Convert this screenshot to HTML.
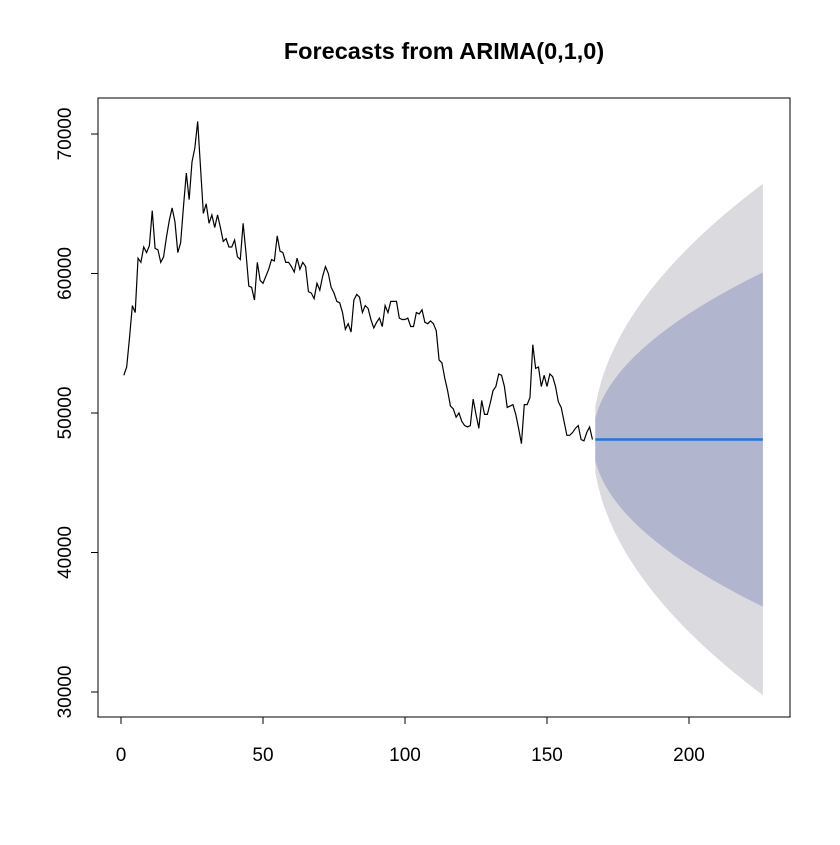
<!DOCTYPE html>
<html><head><meta charset="utf-8"><style>
body{margin:0;background:#fff;}
svg text{font-family:"Liberation Sans",sans-serif;}
</style></head><body>
<svg id="chart" width="840" height="840" xmlns="http://www.w3.org/2000/svg">
<rect width="840" height="840" fill="#fff"/>
<text x="444" y="59" text-anchor="middle" font-size="23.5" font-weight="bold">Forecasts from ARIMA(0,1,0)</text>
<g id="bands"></g>
<g id="series"></g>
<rect x="98" y="98" width="692" height="619" fill="none" stroke="#000" stroke-width="1"/>
<g id="axes"></g>
</svg>
<script>
const observed = [52.7,53.3,55.4,57.7,57.2,61.1,60.8,61.9,61.5,62.0,64.5,61.8,61.7,60.8,61.2,62.6,63.8,64.7,63.7,61.5,62.2,64.8,67.2,65.3,68.0,69.0,70.9,67.6,64.3,65.0,63.6,64.2,63.3,64.2,63.3,62.3,62.5,61.9,61.9,62.4,61.2,61.0,63.6,61.5,59.1,59.0,58.1,60.8,59.5,59.3,59.8,60.3,61.0,60.9,62.7,61.6,61.5,60.8,60.8,60.5,60.1,61.1,60.3,60.8,60.5,58.7,58.6,58.2,59.3,58.8,59.8,60.5,60.0,59.0,58.6,58.0,57.9,57.2,56.0,56.4,55.8,58.1,58.5,58.3,57.2,57.7,57.5,56.7,56.1,56.5,56.8,56.2,57.7,57.2,58.0,58.0,58.0,56.8,56.7,56.7,56.8,56.2,56.2,57.2,57.1,57.4,56.5,56.4,56.6,56.4,55.9,53.8,53.6,52.5,51.6,50.5,50.3,49.7,50.0,49.4,49.1,49.0,49.1,51.0,49.9,48.9,50.9,49.9,49.9,50.7,51.6,51.9,52.8,52.7,51.9,50.4,50.5,50.6,49.9,48.9,47.8,50.6,50.6,51.1,54.9,53.2,53.3,51.9,52.7,51.9,52.8,52.6,51.9,50.8,50.4,49.4,48.4,48.4,48.6,48.9,49.1,48.1,48.0,48.6,49.0,48.1];
const forecastMean = 48.1;
const forecastSigma = 1.207;
const horizon = 60;
const xTicks = [0,50,100,150,200];
const yTicks = [30000,40000,50000,60000,70000];

const NS='http://www.w3.org/2000/svg';
const xs = t => 121 + 2.84*t;
const ys = v => 413 - (v-50)*13.95; // v in thousands
function mk(tag, attrs, parent){const e=document.createElementNS(NS,tag);for(const k in attrs)e.setAttribute(k,attrs[k]);parent.appendChild(e);return e;}
const bands=document.getElementById('bands'), series=document.getElementById('series'), axes=document.getElementById('axes');
const n = observed.length;
function band(z, color, name){
  let up=[],lo=[];
  for(let h=1;h<=horizon;h++){const t=n+h, w=z*forecastSigma*Math.sqrt(h);up.push(xs(t)+','+ys(forecastMean+w));lo.unshift(xs(t)+','+ys(forecastMean-w));}
  const p=mk('polygon',{points:up.concat(lo).join(' '),fill:color,stroke:'none'},bands);
  
  
}
band(1.96,'#dbdbdf','band-95');
band(1.2816,'#b1b5ce','band-80');
const line=mk('polyline',{points:observed.map((v,i)=>xs(i+1)+','+ys(v)).join(' '),fill:'none',stroke:'#000','stroke-width':1.2},series);


const fl=mk('line',{x1:xs(n+1),x2:xs(n+horizon),y1:ys(forecastMean),y2:ys(forecastMean),stroke:'#2277dd','stroke-width':2.5},series);


mk('line',{x1:xs(xTicks[0]),x2:xs(xTicks[xTicks.length-1]),y1:717,y2:717,stroke:'#000'},axes);
xTicks.forEach(t=>{
  mk('line',{x1:xs(t),x2:xs(t),y1:717,y2:724,stroke:'#000'},axes);
  const tx=mk('text',{x:xs(t),y:761,'text-anchor':'middle','font-size':19},axes);tx.textContent=t;
  
  
});
mk('line',{x1:98,x2:98,y1:ys(yTicks[0]/1000),y2:ys(yTicks[yTicks.length-1]/1000),stroke:'#000'},axes);
yTicks.forEach(v=>{
  const y=ys(v/1000);
  mk('line',{x1:91,x2:98,y1:y,y2:y,stroke:'#000'},axes);
  const tx=mk('text',{x:71,y:y,'text-anchor':'middle','font-size':19,transform:'rotate(-90 71 '+y+')'},axes);tx.textContent=v;
  
  
});
</script>
</body></html>
